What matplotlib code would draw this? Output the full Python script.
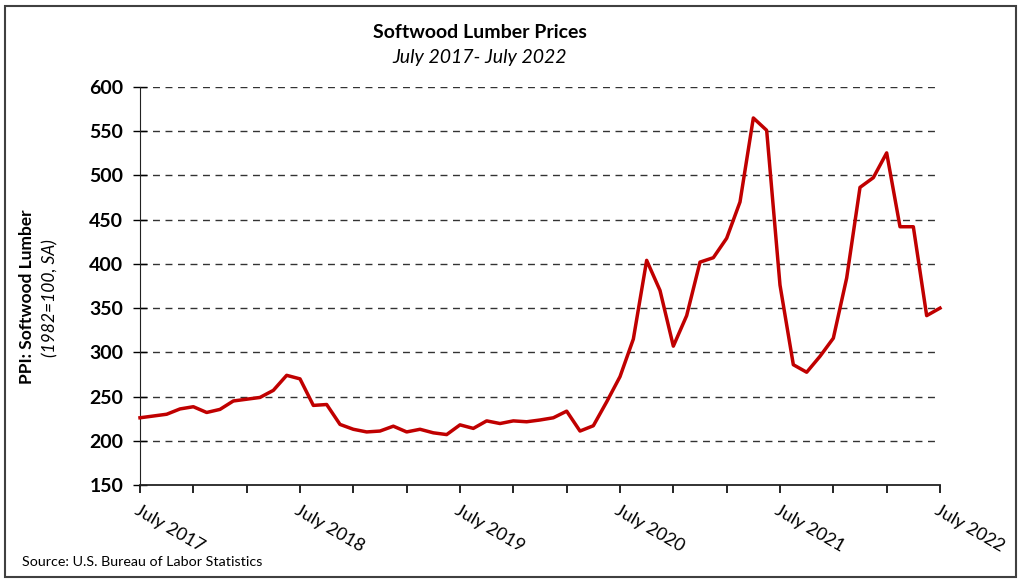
import numpy as np
from matplotlib import pyplot as plt
from matplotlib.patches import Rectangle

plt.rcParams['font.family'] = ['Lato', 'DejaVu Sans']

# monthly PPI softwood lumber, July 2017 .. July 2022
ppi = [226, 228, 230, 236, 238.5, 232, 235.5, 245, 247, 249, 257, 274,
       270, 240, 241, 218.5, 213, 210, 211, 216.5, 210, 213,
       209, 207, 218, 214, 222.5, 219.5, 222.5, 221.5, 223.5, 226, 233.5,
       211, 217, 244, 272.5, 315, 404, 370, 307, 341.5, 402, 407, 429,
       470, 565, 551, 376, 286, 277.5, 295.5, 316, 384, 486.5, 497.5,
       525.5, 442, 442, 341.5, 350]
tick_months = list(range(0, 61, 4))
tick_labels = ['July 2017', '', '', 'July 2018', '', '', 'July 2019', '', '',
               'July 2020', '', '', 'July 2021', '', '', 'July 2022']
y_ticks = [150, 200, 250, 300, 350, 400, 450, 500, 550, 600]

fig = plt.figure(figsize=(10.24, 5.85), dpi=100)
ax = fig.add_axes([140/1024, 1-485/585, 800/1024, 398/585])

months = np.arange(len(ppi))
ax.plot(months, ppi, color='#C00000', lw=2.5, zorder=3, clip_on=False)

ax.set_xlim(0, 60)
ax.set_ylim(150, 600)
ax.set_yticks(y_ticks)
ax.set_yticklabels([str(v) for v in y_ticks], fontsize=14, fontweight='bold')
ax.set_xticks(tick_months)
ax.set_xticklabels(tick_labels, fontsize=13, rotation=-30, ha='left', va='top',
                   rotation_mode='anchor')
ax.tick_params(axis='y', direction='inout', length=10, width=1, pad=7)
ax.tick_params(axis='x', direction='out', length=6, width=1.2, pad=6)

for v in y_ticks[1:]:
    ax.axhline(v, color='#333333', lw=1, ls=(0, (5, 4)), zorder=1)

ax.spines['top'].set_visible(False)
ax.spines['right'].set_visible(False)
ax.spines['left'].set_color('#222222')
ax.spines['bottom'].set_color('#222222')
ax.spines['bottom'].set_linewidth(1.3)

fig.text(480/1024, 1-32/585, 'Softwood Lumber Prices', ha='center', va='center',
         fontsize=14, fontweight='bold')
fig.text(480/1024, 1-58/585, 'July 2017- July 2022', ha='center', va='center',
         fontsize=14, style='italic')
fig.text(27/1024, 1-297/585, 'PPI: Softwood Lumber', rotation=90, ha='center',
         va='center', fontsize=12.5, fontweight='bold')
fig.text(50/1024, 1-298/585, '(1982=100, SA)', rotation=90, ha='center',
         va='center', fontsize=12.5, style='italic')
fig.text(22/1024, 1-562/585, 'Source: U.S. Bureau of Labor Statistics', ha='left',
         va='center', fontsize=10.3)

fig.patches.append(Rectangle((5/1024, 1-577/585), 1011/1024, 571/585,
                             transform=fig.transFigure, fill=False,
                             edgecolor='#404040', lw=1.5))

plt.savefig('out.png', dpi=100)
